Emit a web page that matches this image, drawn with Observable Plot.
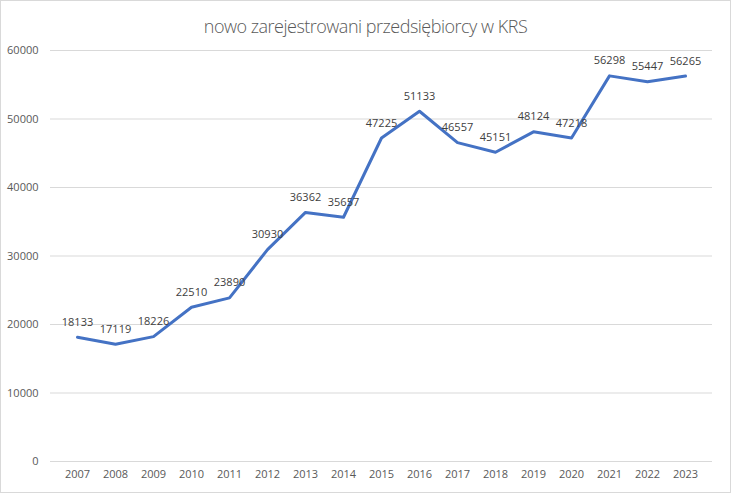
<!DOCTYPE html>
<html>
<head>
<meta charset="utf-8">
<script src="https://cdn.jsdelivr.net/npm/d3@7"></script>
<script src="https://cdn.jsdelivr.net/npm/@observablehq/plot@0.6"></script>
<style>
  html, body { margin: 0; padding: 0; background: #fff; }
  #frame { width: 731px; height: 493px; box-sizing: border-box; border: 1px solid #d9d9d9; background: #fff; overflow: hidden; }
  #title { height: 30px; line-height: 30px; padding-top: 10px; text-align: center; font-family: "Open Sans", sans-serif; font-weight: 300; font-size: 18px; color: #595959; letter-spacing: -0.5px; }
</style>
</head>
<body>
<div id="frame">
  <div id="title">nowo zarejestrowani przedsiębiorcy w KRS</div>
  <div id="chart"></div>
</div>
<script>
const years = ["2007","2008","2009","2010","2011","2012","2013","2014","2015","2016","2017","2018","2019","2020","2021","2022","2023"];
const values = [18133,17119,18226,22510,23890,30930,36362,35657,47225,51133,46557,45151,48124,47218,56298,55447,56265];
const yTicks = [0,10000,20000,30000,40000,50000,60000];

const data = years.map((y, i) => ({year: y, value: values[i]}));

const chart = Plot.plot({
  width: 729,
  height: 451,
  marginTop: 9,
  marginBottom: 31,
  marginLeft: 49,
  marginRight: 18,
  style: {fontFamily: "'Open Sans', sans-serif", fontSize: "11px", color: "#595959", background: "#fff"},
  x: {type: "point", domain: years, padding: 0.5, label: null},
  y: {domain: [0, 60000], label: null},
  marks: [
    Plot.ruleY(yTicks, {stroke: "#d9d9d9", strokeWidth: 1}),
    Plot.axisY(yTicks, {tickSize: 0, tickPadding: 12, tickFormat: d => String(d), fontSize: 11, fill: "#595959"}),
    Plot.axisX(years, {tickSize: 0, tickPadding: 9, fontSize: 11, fill: "#595959"}),
    Plot.line(data, {x: "year", y: "value", stroke: "#4472C4", strokeWidth: 3, strokeLinejoin: "round", strokeLinecap: "round"}),
    Plot.text(data, {x: "year", y: "value", text: d => String(d.value), dy: -15, fill: "#404040", fontSize: 11})
  ]
});
document.getElementById("chart").appendChild(chart);
</script>
</body>
</html>
